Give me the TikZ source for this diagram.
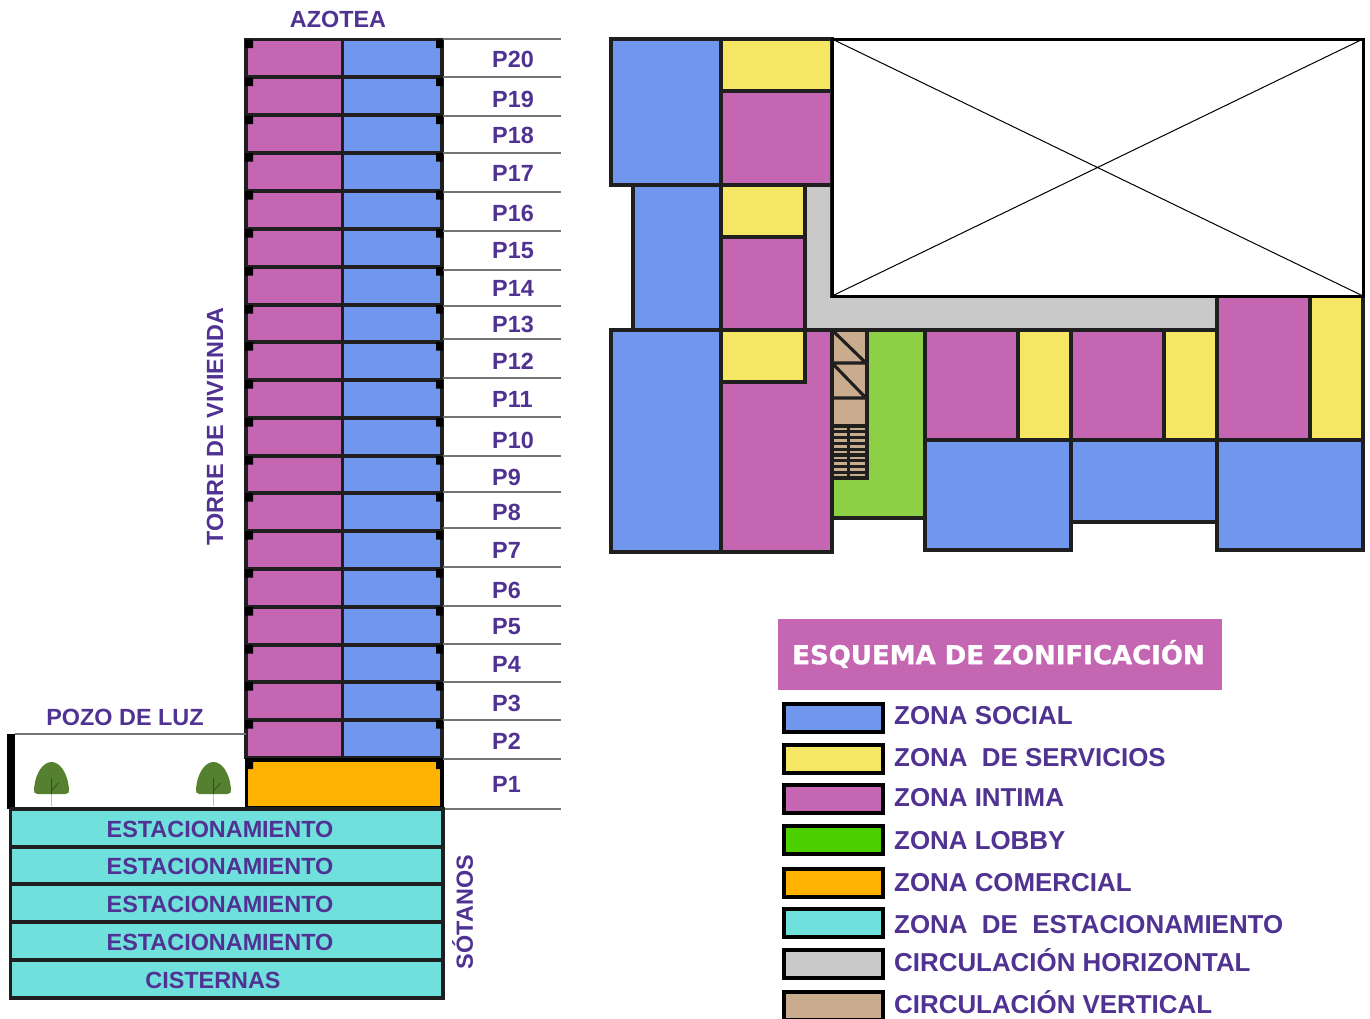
\documentclass[tikz,border=0pt]{standalone}
\usepackage{fontspec}
\setmainfont{Liberation Sans}
\newfontfamily\headfont[BoldFeatures={FakeBold=1.2}]{DejaVu Sans}
\usetikzlibrary{calc}
\definecolor{social}{HTML}{7096EE}
\definecolor{servicio}{HTML}{F5E663}
\definecolor{intima}{HTML}{C566B3}
\definecolor{lobby}{HTML}{4CD000}
\definecolor{patio}{HTML}{8DD045}
\definecolor{comercial}{HTML}{FFB300}
\definecolor{parking}{HTML}{6FE0DC}
\definecolor{horiz}{HTML}{C9C9C9}
\definecolor{vertic}{HTML}{C9AB8E}
\definecolor{rotulo}{HTML}{4F3292}
\definecolor{copa}{HTML}{55802F}
\tikzset{
  zone/.style={draw=black!88,line width=3.1pt,line join=miter},
  piso/.style={draw=black!55,line width=1.2pt},
  rot/.style={text=rotulo,font=\fontsize{23.4}{24}\selectfont\bfseries,inner sep=0pt},
  leyenda/.style={text=rotulo,font=\fontsize{25.9}{26}\selectfont\bfseries,inner sep=0pt,anchor=west},
  pics/arbol/.style={code={
    \draw [black!25,line width=1.5pt] (0,14) -- (0,26);
    \fill [copa] (-14,14) -- (14,14) .. controls (17,14) and (18,12) .. (17.5,9) .. controls (16,-8) and (8,-18) .. (0,-18) .. controls (-8,-18) and (-16,-8) .. (-17.5,9) .. controls (-18,12) and (-17,14) .. (-14,14) -- cycle;
    \draw [copa!60!black,line width=.7pt] (0,14) -- (0,-2) (0,11) -- (7,3);
  }}
}
\begin{document}
\begin{tikzpicture}[x=1pt,y=-1pt]
\useasboundingbox (0,0) rectangle (1370,1018);
% torre
\foreach \ytop [count=\n] in {39.5,77.5,115.5,153,191,229,267,305,342,380,418,456,493,531,569,607,645,682,720} {
  \draw [zone,fill=intima] (246,\ytop) rectangle (342.5,\ytop+37.5);
  \draw [zone,fill=social] (342.5,\ytop) rectangle (442,\ytop+37.5);
  \fill [black] (245,\ytop) rectangle (253,\ytop+8.5) (436,\ytop) rectangle (443,\ytop+8.5);
}
\draw [draw=black,line width=3.4pt,fill=comercial] (246.5,760) rectangle (442,808);
\fill [black] (245,759) rectangle (253,769) (436,759) rectangle (443,769);
\foreach \yline in {39,77,116,153,192,231,270,306,339,378,417,456,492,528,567,606,644,682,720,759,809}
  \draw [piso] (443,\yline) -- (561,\yline);
\foreach \name/\xpos/\ypos in {P20/492/59,P19/492/99,P18/492/135,P17/492/173,P16/492/213,P15/492/251,P14/492/288,P13/492/324,P12/492/361,P11/492/399,P10/492/440,P9/492/477,P8/492/512,P7/492/550,P6/492/590,P5/492/627,P4/492/664,P3/492/703,P2/492/741,P1/492/784}
  \node [rot,anchor=west] (lab\name) at (\xpos,\ypos) {\name};
\node [rot] (azotea) at (338,19) {AZOTEA};
\node [rot,rotate=90] (torre) at (215,426.5) {TORRE DE VIVIENDA};
% pozo de luz
\node [rot] (pozo) at (125,717) {POZO DE LUZ};
\draw [piso] (15,734) -- (246,734);
\fill [black] (7,734) rectangle (15,809);
\pic (arbolA) at (51.5,780) {arbol};
\pic (arbolB) at (213.5,780) {arbol};
% sotanos
\foreach \ytop/\ybot/\xmid/\txt [count=\n] in {809/847/220/ESTACIONAMIENTO,847/884/220/ESTACIONAMIENTO,884/922/220/ESTACIONAMIENTO,922/960/220/ESTACIONAMIENTO,960/998/213/CISTERNAS} {
  \draw [zone,fill=parking] (10.5,\ytop) rectangle (443,\ybot);
  \node [rot] (sot\n) at (\xmid,{(\ytop+\ybot)/2+1}) {\txt};
}
\node [rot,rotate=90] (sotanos) at (462.5,912) {SÓTANOS};
% planta
\draw [zone,fill=horiz] (805,185) -- (832,185) -- (832,296) -- (1217,296) -- (1217,330) -- (805,330) -- cycle;
\draw [zone,fill=patio] (832,330) rectangle (925,518);
\draw [zone,fill=vertic] (832,330) rectangle (867,478);
\draw [zone] (832,330) -- (866,363) (832,363) -- (867,363) (832,363) -- (866,398) (832,398) -- (867,398);
\draw [zone] (832,426) -- (867,426);
\foreach \ystep in {1,...,8}
  \draw [black!88,line width=3.3pt] (832,426+\ystep*5.8) -- (867,426+\ystep*5.8);
\draw [black!88,line width=3.6pt] (848.5,426) -- (848.5,478);
\draw [zone,fill=social] (611,39) rectangle (721,185);
\draw [zone,fill=social] (633,185) rectangle (721,330);
\draw [zone,fill=social] (611,330) rectangle (721,552);
\draw [zone,fill=servicio] (721,39) rectangle (832,91);
\draw [zone,fill=intima] (721,91) rectangle (832,185);
\draw [zone,fill=servicio] (721,185) rectangle (805,237);
\draw [zone,fill=intima] (721,237) rectangle (805,330);
\draw [zone,fill=intima] (721,330) rectangle (832,552);
\draw [zone,fill=servicio] (721,330) rectangle (805,382);
\draw [zone,fill=intima] (925,330) rectangle (1018,440);
\draw [zone,fill=servicio] (1018,330) rectangle (1071,440);
\draw [zone,fill=intima] (1071,330) rectangle (1164,440);
\draw [zone,fill=servicio] (1164,330) rectangle (1217,440);
\draw [zone,fill=intima] (1217,296) rectangle (1310,440);
\draw [zone,fill=servicio] (1310,296) rectangle (1363,440);
\draw [zone,fill=social] (925,440) rectangle (1071,550);
\draw [zone,fill=social] (1071,440) rectangle (1217,522);
\draw [zone,fill=social] (1217,440) rectangle (1363,550);
\draw [line width=3pt,fill=white] (832,39) rectangle (1363,296);
\draw [line width=1pt] (832,39) -- (1363,296) (832,296) -- (1363,39);
% leyenda
\fill [intima] (778,619) rectangle (1222,690);
\node [text=white,font=\headfont\fontsize{26}{26}\selectfont\bfseries,inner sep=0pt] (titulo) at (998.5,654) {ESQUEMA DE ZONIFICACIÓN};
\foreach \ybox/\ytxt/\col/\txt [count=\n] in {704/716/social/ZONA SOCIAL,745/758/servicio/ZONA\ \ DE SERVICIOS,785/798/intima/ZONA INTIMA,826/841/lobby/ZONA LOBBY,869/883/comercial/ZONA COMERCIAL,909/925/parking/ZONA\ \ DE\ \ ESTACIONAMIENTO,950/960/horiz/CIRCULACIÓN HORIZONTAL,992/1002/vertic/CIRCULACIÓN VERTICAL} {
  \draw [black,line width=3.4pt,fill=\col] (784,\ybox) rectangle (883,\ybox+28);
  \node [leyenda] (ley\n) at (894,\ytxt) {\txt};
}
\end{tikzpicture}
\end{document}
